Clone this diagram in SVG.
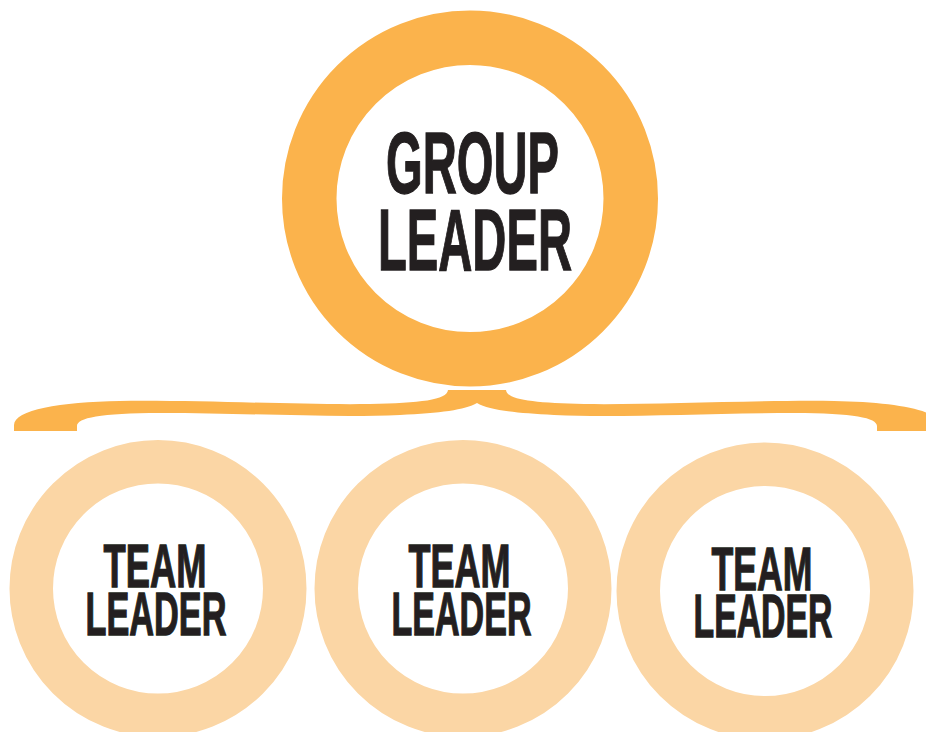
<svg xmlns="http://www.w3.org/2000/svg" xmlns:xlink="http://www.w3.org/1999/xlink" width="926" height="732" viewBox="0 0 926 732">
<style>
.big{fill:none;stroke:#FBB34C;stroke-width:54.5}
.small{fill:none;stroke:#FBD6A5;stroke-width:43.5}
.lbl{font-family:"Liberation Sans",Arial,sans-serif;font-weight:bold;fill:#231F20;stroke:#231F20;stroke-width:1.3;text-anchor:middle}
.g{font-size:88px}
.t{font-size:61px}
.brace{fill:#FBB34C}
</style>
<defs>
<path id="halfBrace" d="M 448 390 C 447 400 420 403 370 404 C 300 405 200 400 120 401 C 60 402 14 410 14 425 L 14 431 L 77 431 L 77 426 C 77 418 100 413 160 413 C 250 413 330 418 400 415 C 440 413 465 410 477 403 L 477 390 Z"/>
</defs>
<rect width="926" height="732" fill="#fff"/>
<g id="connectors">
<use xlink:href="#halfBrace" class="brace"/>
<use xlink:href="#halfBrace" class="brace" transform="translate(954,0) scale(-1,1)"/>
</g>
<g id="group-leader">
<circle class="big" cx="470" cy="198.5" r="160.75"/>
<text class="lbl g"><tspan x="472.5" y="193" textLength="173" lengthAdjust="spacingAndGlyphs">GROUP</tspan><tspan x="475" y="270" textLength="194" lengthAdjust="spacingAndGlyphs">LEADER</tspan></text>
</g>
<g id="team-leader-1">
<circle class="small" cx="158" cy="588.5" r="126.75"/>
<text class="lbl t"><tspan x="155" y="587" textLength="103" lengthAdjust="spacingAndGlyphs">TEAM</tspan><tspan x="156" y="635" textLength="141" lengthAdjust="spacingAndGlyphs">LEADER</tspan></text>
</g>
<g id="team-leader-2">
<circle class="small" cx="463" cy="588.5" r="126.75"/>
<text class="lbl t"><tspan x="459.5" y="587" textLength="102" lengthAdjust="spacingAndGlyphs">TEAM</tspan><tspan x="461.5" y="635" textLength="140" lengthAdjust="spacingAndGlyphs">LEADER</tspan></text>
</g>
<g id="team-leader-3">
<circle class="small" cx="765" cy="591" r="126.75"/>
<text class="lbl t"><tspan x="762" y="590" textLength="101" lengthAdjust="spacingAndGlyphs">TEAM</tspan><tspan x="763" y="637" textLength="139" lengthAdjust="spacingAndGlyphs">LEADER</tspan></text>
</g>
</svg>
